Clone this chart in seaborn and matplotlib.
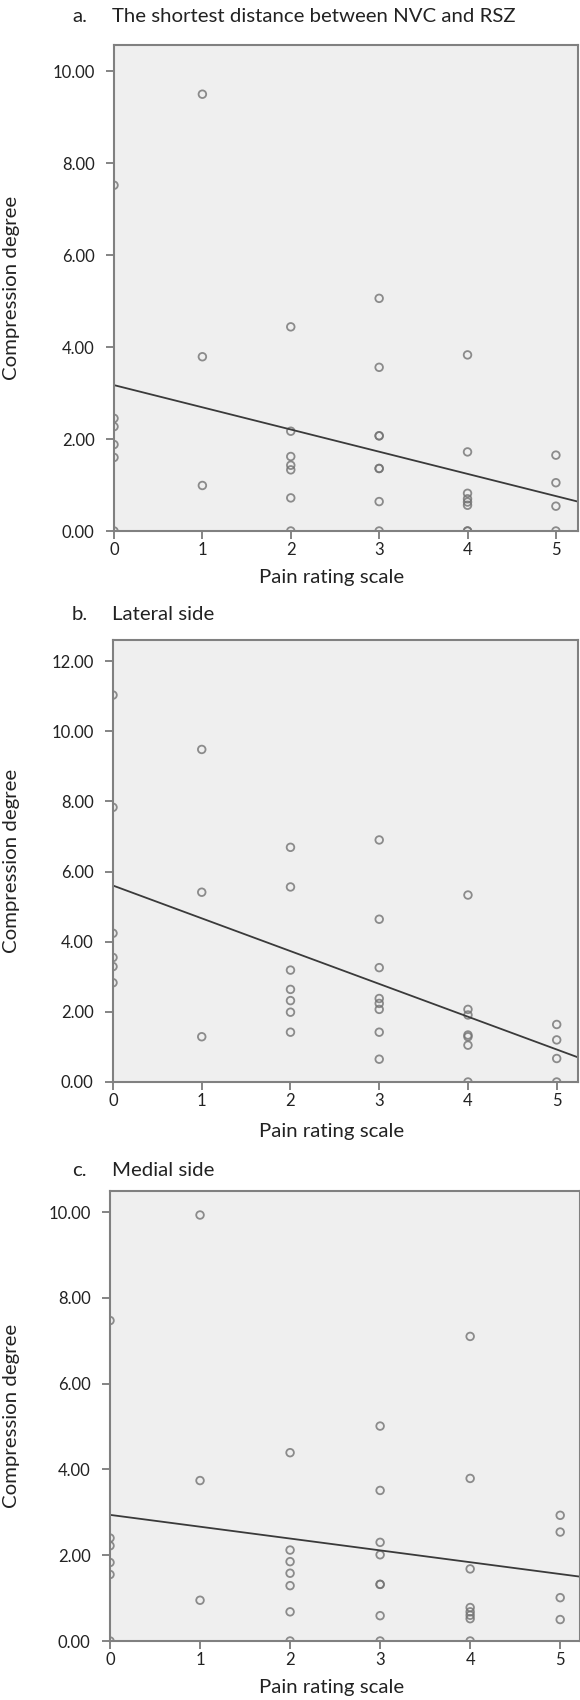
import matplotlib
matplotlib.use("Agg")
import matplotlib.pyplot as plt
from matplotlib.ticker import FormatStrFormatter
import seaborn as sns
import pandas as pd

# a. shortest distance between NVC and RSZ
pain_a = [0] * 6 + [1] * 3 + [2] * 7 + [3] * 8 + [4] * 8 + [5] * 4
comp_a = [7.52, 2.45, 2.27, 1.88, 1.60, 0.00,
          9.50, 3.79, 0.99,
          4.44, 2.17, 1.62, 1.43, 1.33, 0.72, 0.00,
          5.06, 3.56, 2.07, 2.07, 1.36, 1.36, 0.64, 0.00,
          3.83, 1.72, 0.82, 0.70, 0.63, 0.56, 0.00, 0.00,
          1.65, 1.05, 0.54, 0.00]

# b. lateral side
pain_b = [0] * 6 + [1] * 3 + [2] * 7 + [3] * 8 + [4] * 7 + [5] * 4
comp_b = [11.03, 7.83, 4.24, 3.55, 3.29, 2.83,
          9.48, 5.41, 1.29,
          6.69, 5.56, 3.19, 2.64, 2.32, 1.99, 1.42,
          6.90, 4.64, 3.26, 2.38, 2.24, 2.07, 1.42, 0.65,
          5.33, 2.07, 1.91, 1.34, 1.29, 1.05, 0.00,
          1.64, 1.20, 0.67, 0.00]

# c. medial side
pain_c = [0] * 6 + [1] * 3 + [2] * 7 + [3] * 8 + [4] * 8 + [5] * 4
comp_c = [7.47, 2.40, 2.22, 1.83, 1.55, 0.00,
          9.93, 3.74, 0.95,
          4.39, 2.12, 1.85, 1.58, 1.29, 0.68, 0.00,
          5.01, 3.51, 2.30, 2.01, 1.32, 1.32, 0.59, 0.00,
          7.10, 3.79, 1.68, 0.78, 0.68, 0.60, 0.52, 0.00,
          2.93, 2.54, 1.01, 0.50]

letters = ["a.", "b.", "c."]
titles = ["The shortest distance between NVC and RSZ", "Lateral side", "Medial side"]
y_ticks = [[0, 2, 4, 6, 8, 10], [0, 2, 4, 6, 8, 10, 12], [0, 2, 4, 6, 8, 10]]

sns.set_style("white")
plt.rcParams['font.family'] = ['Lato', 'DejaVu Sans']

W, H = 580, 1700
fig = plt.figure(figsize=(W / 100, H / 100), dpi=100)

# pixel boxes: left, top, right, bottom
boxes = [(114, 45, 578, 531), (113, 640, 578, 1082), (110, 1191, 580, 1641)]
xmax = [5.25, 5.24, 5.22]
ymax = [10.57, 12.6, 10.49]
title_y = [17, 615, 1170]
xlabel_y = [577, 1132, 1688]

frames = [(pain_a, comp_a), (pain_b, comp_b), (pain_c, comp_c)]
edge = "#727272"
txt = "#222222"

for i, (px, cy) in enumerate(frames):
    l, t, r, b = boxes[i]
    ax = fig.add_axes([l / W, 1 - b / H, (r - l) / W, (b - t) / H])
    ax.set_facecolor("#efefef")
    ax.set_xlim(0, xmax[i])
    ax.set_ylim(0, ymax[i])
    df = pd.DataFrame({"pain": px, "comp": cy})
    sns.regplot(data=df, x="pain", y="comp", ax=ax, ci=None, truncate=False,
                marker="o",
                scatter_kws={"s": 30, "facecolors": "none", "edgecolors": edge,
                             "linewidths": 1.3},
                line_kws={"color": "#3a3a3a", "lw": 1.3})
    ax.set_xticks([0, 1, 2, 3, 4, 5])
    ax.set_yticks(y_ticks[i])
    ax.yaxis.set_major_formatter(FormatStrFormatter("%.2f"))
    ax.tick_params(axis="y", direction="out", length=6, width=1.2,
                   color="#707070", labelsize=12, labelcolor=txt, left=True, pad=8)
    ax.tick_params(axis="x", direction="out", length=6, width=1.2,
                   color="#707070", labelsize=12, labelcolor=txt, bottom=True, pad=2)
    for s in ax.spines.values():
        s.set_color("#808080")
        s.set_linewidth(1.5)
    ax.set_xlabel("")
    ax.set_ylabel("Compression degree", fontsize=14.7, color=txt)
    ax.yaxis.set_label_coords((20 - l) / (r - l), 0.5)

    fig.text(72 / W, 1 - title_y[i] / H, letters[i], fontsize=14.7,
             color=txt, va="center", ha="left")
    fig.text(112 / W, 1 - title_y[i] / H, titles[i], fontsize=14.7,
             color=txt, va="center", ha="left")
    fig.text(332 / W, 1 - xlabel_y[i] / H, "Pain rating scale", fontsize=14.7,
             color=txt, va="center", ha="center")

fig.savefig("out.png", dpi=100)
